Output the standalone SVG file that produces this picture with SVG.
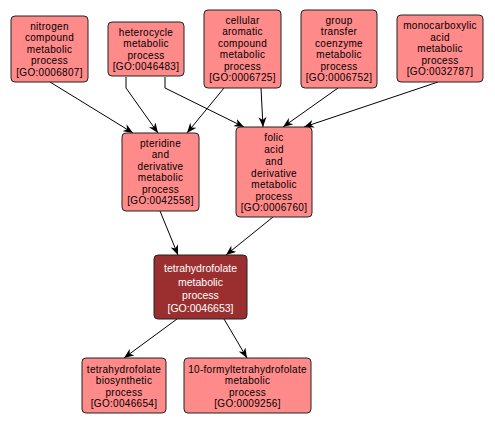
<svg xmlns="http://www.w3.org/2000/svg" width="495" height="424" viewBox="0 0 495 424">
<defs>
<style>
.n rect{fill:#FF8A8A;stroke:#222;stroke-width:1}
.n text{font-family:"Liberation Sans",Arial,sans-serif;font-size:10px;letter-spacing:0.3px;fill:#000;text-anchor:middle}
.d rect{fill:#9B2F2F;stroke:#222;stroke-width:1}
.d text{font-family:"Liberation Sans",Arial,sans-serif;font-size:10.5px;fill:#fff;text-anchor:middle}
.e path{fill:none;stroke:#000;stroke-width:1;marker-end:url(#a)}
</style>
<marker id="a" viewBox="0 0 10 8" refX="10" refY="4" markerWidth="10" markerHeight="8" markerUnits="userSpaceOnUse" orient="auto">
<path d="M0,0 L10,4 L0,8 L3,4 z" fill="#000"/>
</marker>
</defs>
<rect width="495" height="424" fill="#fff"/>
<g class="e">
<path d="M50,82 L133,133"/>
<path d="M126,77 L126,88 L158,133"/>
<path d="M165,77 L165,88 L244,127"/>
<path d="M224,88 L187,133"/>
<path d="M261,88 L263,127"/>
<path d="M338,88 L283,127"/>
<path d="M438,82 L304,127"/>
<path d="M160,211 L178,255"/>
<path d="M273,217 L226,255"/>
<path d="M177,319 L124,358"/>
<path d="M224,319 L247,358"/>
</g>
<g id="n1" class="n"><rect x="11" y="16" width="77" height="66" rx="4"/>
<text x="49.5" y="29.5">nitrogen</text><text x="49.5" y="41">compound</text><text x="49.5" y="52.5">metabolic</text><text x="49.5" y="64">process</text><text x="49.5" y="75.5">[GO:0006807]</text></g>
<g id="n2" class="n"><rect x="108" y="22" width="76" height="54" rx="4"/>
<text x="146" y="35.5">heterocycle</text><text x="146" y="47">metabolic</text><text x="146" y="58.5">process</text><text x="146" y="70">[GO:0046483]</text></g>
<g id="n3" class="n"><rect x="204" y="10" width="77" height="78" rx="4"/>
<text x="242.5" y="23.5">cellular</text><text x="242.5" y="35">aromatic</text><text x="242.5" y="46.5">compound</text><text x="242.5" y="58">metabolic</text><text x="242.5" y="69.5">process</text><text x="242.5" y="81">[GO:0006725]</text></g>
<g id="n4" class="n"><rect x="301" y="10" width="76" height="78" rx="4"/>
<text x="339" y="23.5">group</text><text x="339" y="35">transfer</text><text x="339" y="46.5">coenzyme</text><text x="339" y="58">metabolic</text><text x="339" y="69.5">process</text><text x="339" y="81">[GO:0006752]</text></g>
<g id="n5" class="n"><rect x="397" y="15" width="86" height="67" rx="4"/>
<text x="440" y="29">monocarboxylic</text><text x="440" y="40.5">acid</text><text x="440" y="52">metabolic</text><text x="440" y="63.5">process</text><text x="440" y="75">[GO:0032787]</text></g>
<g id="n6" class="n"><rect x="122" y="133" width="77" height="78" rx="4"/>
<text x="160.5" y="146.5">pteridine</text><text x="160.5" y="158">and</text><text x="160.5" y="169.5">derivative</text><text x="160.5" y="181">metabolic</text><text x="160.5" y="192.5">process</text><text x="160.5" y="204">[GO:0042558]</text></g>
<g id="n7" class="n"><rect x="236" y="127" width="76" height="90" rx="4"/>
<text x="274" y="140.5">folic</text><text x="274" y="152.5">acid</text><text x="274" y="164.5">and</text><text x="274" y="176.5">derivative</text><text x="274" y="188">metabolic</text><text x="274" y="199.5">process</text><text x="274" y="211">[GO:0006760]</text></g>
<g id="n8" class="d"><rect x="154" y="255" width="93" height="64" rx="4"/>
<text x="200.5" y="272">tetrahydrofolate</text><text x="200.5" y="285.5">metabolic</text><text x="200.5" y="299">process</text><text x="200.5" y="312">[GO:0046653]</text></g>
<g id="n9" class="n"><rect x="82" y="358" width="84" height="55" rx="4"/>
<text x="124" y="372.5">tetrahydrofolate</text><text x="124" y="384">biosynthetic</text><text x="124" y="395.5">process</text><text x="124" y="407">[GO:0046654]</text></g>
<g id="n10" class="n"><rect x="184" y="358" width="127" height="55" rx="4"/>
<text x="247.5" y="372.5">10-formyltetrahydrofolate</text><text x="247.5" y="384">metabolic</text><text x="247.5" y="395.5">process</text><text x="247.5" y="407">[GO:0009256]</text></g>
</svg>
